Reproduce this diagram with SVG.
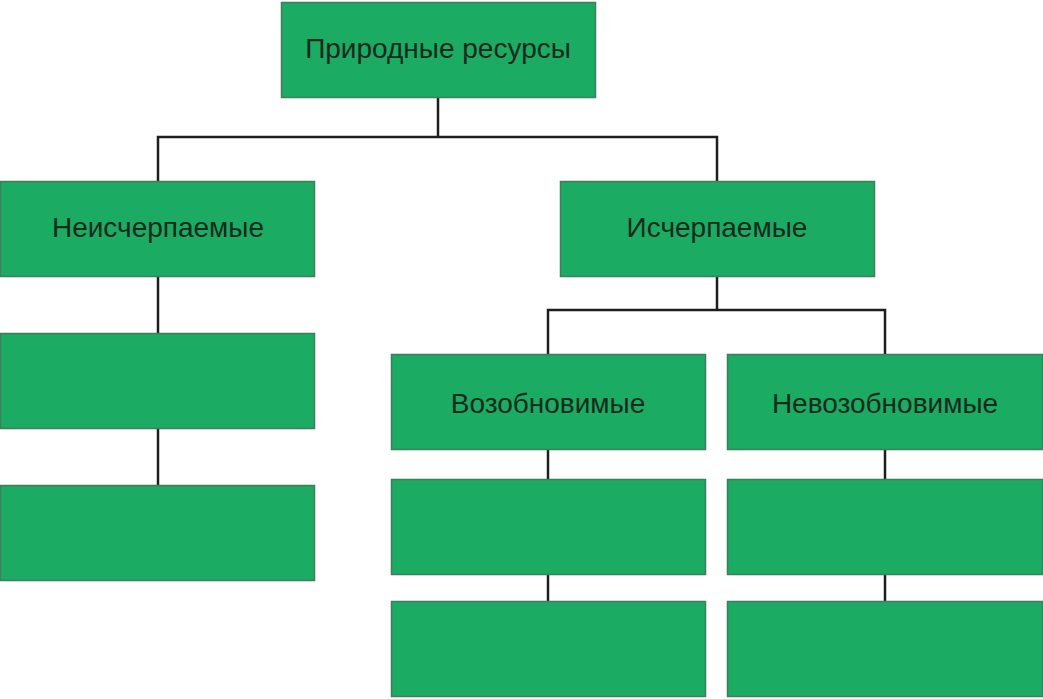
<svg xmlns="http://www.w3.org/2000/svg" width="1043" height="699" viewBox="0 0 1043 699">
<style>
.box{fill:#1bab63;stroke:#3f7d5c;stroke-width:1.5}
.lbl{font-family:"Liberation Sans",Arial,sans-serif;font-size:28px;fill:#142a1c;text-anchor:middle}
.ln{stroke:#1e1e1e;stroke-width:2.5;fill:none}
</style>
<rect width="1043" height="699" fill="#ffffff"/>
<g id="connectors">
<path class="ln" d="M438 97V137M158 181V137H717V181"/>
<path class="ln" d="M158 277V333M158 429V485"/>
<path class="ln" d="M717 277V310M548 354V310H885V354"/>
<path class="ln" d="M548 450V479M548 575V601M885 450V479M885 575V601"/>
</g>
<g id="n-root"><rect class="box" x="281.5" y="2.5" width="314" height="95"/><text class="lbl" x="438" y="58">Природные ресурсы</text></g>
<g id="n-inexh"><rect class="box" x="0.5" y="181.5" width="314" height="95"/><text class="lbl" x="158" y="237">Неисчерпаемые</text></g>
<g id="n-left2"><rect class="box" x="0.5" y="333.5" width="314" height="95"/></g>
<g id="n-left3"><rect class="box" x="0.5" y="485.5" width="314" height="95"/></g>
<g id="n-exh"><rect class="box" x="560.5" y="181.5" width="314" height="95"/><text class="lbl" x="717" y="237">Исчерпаемые</text></g>
<g id="n-renew"><rect class="box" x="391.5" y="354.5" width="314" height="95"/><text class="lbl" x="548" y="413">Возобновимые</text></g>
<g id="n-nonrenew"><rect class="box" x="727.5" y="354.5" width="315" height="95"/><text class="lbl" x="885" y="413">Невозобновимые</text></g>
<g id="n-renew2"><rect class="box" x="391.5" y="479.5" width="314" height="95"/></g>
<g id="n-renew3"><rect class="box" x="391.5" y="601.5" width="314" height="95"/></g>
<g id="n-nonrenew2"><rect class="box" x="727.5" y="479.5" width="315" height="95"/></g>
<g id="n-nonrenew3"><rect class="box" x="727.5" y="601.5" width="315" height="95"/></g>
</svg>
